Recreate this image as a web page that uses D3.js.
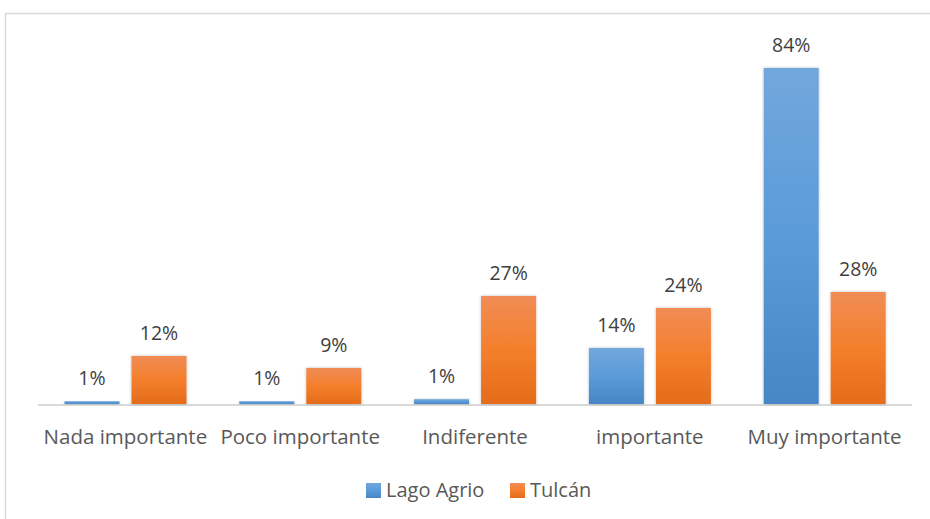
<!DOCTYPE html>
<html>
<head>
<meta charset="utf-8">
<script src="https://cdn.jsdelivr.net/npm/d3@7"></script>
<style>
  body { margin: 0; background: #fff; }
  svg { display: block; font-family: Lato, "Open Sans", sans-serif; }
</style>
</head>
<body>
<svg id="chart" width="930" height="519"></svg>
<script>
var categories = ["Nada importante", "Poco importante", "Indiferente", "importante", "Muy importante"];
var seriesNames = ["Lago Agrio", "Tulcán"];
var lagoAgrio = [0.7, 0.7, 1.2, 14, 84];
var tulcan = [12, 9, 27, 24, 28];
var labelsLago = ["1%", "1%", "1%", "14%", "84%"];
var labelsTulcan = ["12%", "9%", "27%", "24%", "28%"];

var svg = d3.select("#chart");
var w = 930, h = 519;
var left = 38, right = 912, baseY = 404;

// frame
svg.append("rect").attr("x", 5.5).attr("y", 13.5).attr("width", 940).attr("height", 520)
  .attr("fill", "#fff").attr("stroke", "#d9d9d9").attr("stroke-width", 1.5);

var defs = svg.append("defs");
var gBlue = defs.append("linearGradient").attr("id", "gradBlue").attr("x1", 0).attr("y1", 0).attr("x2", 0).attr("y2", 1);
gBlue.append("stop").attr("offset", "0%").attr("stop-color", "#72a7dc");
gBlue.append("stop").attr("offset", "50%").attr("stop-color", "#5b9bd9");
gBlue.append("stop").attr("offset", "100%").attr("stop-color", "#4686c7");
var gOr = defs.append("linearGradient").attr("id", "gradOrange").attr("x1", 0).attr("y1", 0).attr("x2", 0).attr("y2", 1);
gOr.append("stop").attr("offset", "0%").attr("stop-color", "#f08c55");
gOr.append("stop").attr("offset", "50%").attr("stop-color", "#f47f2c");
gOr.append("stop").attr("offset", "100%").attr("stop-color", "#e46c1a");
var shadow = defs.append("filter").attr("id", "shadow").attr("x", "-20%").attr("y", "-5%").attr("width", "140%").attr("height", "110%");
shadow.append("feDropShadow").attr("dx", 0).attr("dy", 0).attr("stdDeviation", 1.5)
  .attr("flood-color", "#000").attr("flood-opacity", 0.25);

var x0 = d3.scaleBand().domain(categories).range([left, right]).padding(0);
var x1 = d3.scaleBand().domain(seriesNames).range([26.5, 148.5]).paddingInner(0.179).paddingOuter(0);
var y = d3.scaleLinear().domain([0, 84]).range([baseY, 68]);

var fills = { "Lago Agrio": "url(#gradBlue)", "Tulcán": "url(#gradOrange)" };

var data = [];
categories.forEach(function(c, i) {
  data.push({ cat: c, s: "Lago Agrio", v: lagoAgrio[i], label: labelsLago[i] });
  data.push({ cat: c, s: "Tulcán", v: tulcan[i], label: labelsTulcan[i] });
});

// axis line
svg.append("line").attr("x1", left).attr("x2", right).attr("y1", baseY + 1).attr("y2", baseY + 1)
  .attr("stroke", "#d9d9d9").attr("stroke-width", 2);

var bars = svg.append("g");
bars.selectAll("rect").data(data).enter().append("rect")
  .attr("x", function(d) { return x0(d.cat) + x1(d.s); })
  .attr("y", function(d) { return y(d.v); })
  .attr("width", x1.bandwidth())
  .attr("height", function(d) { return baseY - y(d.v); })
  .attr("fill", function(d) { return fills[d.s]; })
  .attr("filter", "url(#shadow)");

svg.append("g").selectAll("text").data(data).enter().append("text")
  .attr("x", function(d) { return x0(d.cat) + x1(d.s) + x1.bandwidth() / 2; })
  .attr("y", function(d) { return Math.min(y(d.v), baseY - 3) - 16; })
  .attr("text-anchor", "middle")
  .attr("font-family", "'Open Sans', sans-serif")
  .attr("font-size", 19.5)
  .attr("fill", "#404040")
  .text(function(d) { return d.label; });

// category labels
svg.append("g").selectAll("text").data(categories).enter().append("text")
  .attr("x", function(d) { return x0(d) + x0.bandwidth() / 2; })
  .attr("y", 444)
  .attr("text-anchor", "middle")
  .attr("font-family", "'Open Sans', sans-serif")
  .attr("font-size", 20.5)
  .attr("fill", "#595959")
  .text(function(d) { return d; });

// legend
var legendX = [366, 510];
var legend = svg.append("g");
seriesNames.forEach(function(s, i) {
  legend.append("rect").attr("x", legendX[i]).attr("y", 483).attr("width", 15).attr("height", 15)
    .attr("fill", fills[s]);
  legend.append("text").attr("x", legendX[i] + 20).attr("y", 497)
    .attr("font-family", "'Open Sans', sans-serif")
    .attr("font-size", 20).attr("fill", "#595959").text(s);
});
</script>
</body>
</html>
